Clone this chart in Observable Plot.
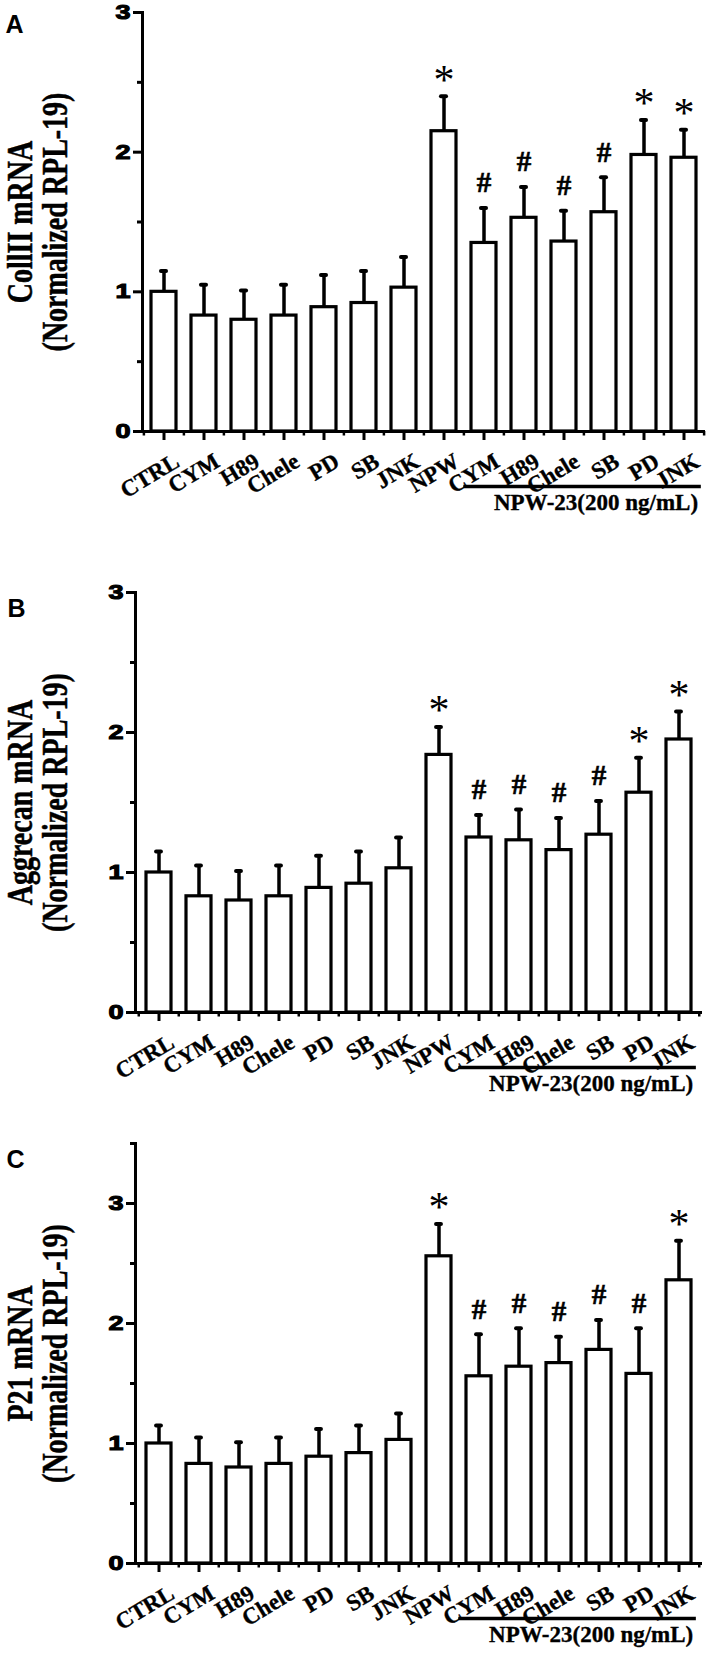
<!DOCTYPE html>
<html><head><meta charset="utf-8">
<script src="https://cdn.jsdelivr.net/npm/d3@7"></script>
<script src="https://cdn.jsdelivr.net/npm/@observablehq/plot@0.6"></script>
<style>
body{margin:0;background:#fff;}
#chart{width:709px;}
#chart svg{display:block;overflow:visible;}
</style></head><body><div id="chart"></div>
<script>
// Categories (x tick labels)
const labels = ["CTRL","CYM","H89","Chele","PD","SB","JNK","NPW","CYM","H89","Chele","SB","PD","JNK"];
const groupLabel = "NPW-23(200 ng/mL)";
const yTickLabels = [0, 1, 2, 3];

// Panel A: CollII mRNA
const collMean  = [1.00,0.83,0.80,0.83,0.89,0.92,1.03,2.15,1.35,1.53,1.36,1.57,1.98,1.96];
const collUpper = [1.15,1.05,1.01,1.05,1.12,1.15,1.25,2.40,1.60,1.75,1.58,1.82,2.23,2.16];
const collMarks = ["","","","","","","","*","#","#","#","#","*","*"];

// Panel B: Aggrecan mRNA
const aggMean  = [1.00,0.83,0.80,0.83,0.89,0.92,1.03,1.84,1.25,1.23,1.16,1.27,1.57,1.95];
const aggUpper = [1.15,1.05,1.01,1.05,1.12,1.15,1.25,2.04,1.41,1.45,1.39,1.51,1.82,2.15];
const aggMarks = ["","","","","","","","*","#","#","#","#","*","*"];

// Panel C: P21 mRNA
const p21Mean  = [1.00,0.83,0.80,0.83,0.89,0.92,1.03,2.56,1.56,1.64,1.67,1.78,1.58,2.36];
const p21Upper = [1.15,1.05,1.01,1.05,1.12,1.15,1.25,2.83,1.91,1.96,1.89,2.03,1.96,2.69];
const p21Marks = ["","","","","","","","*","#","#","#","#","#","*"];

const serif = "'Liberation Serif','Times New Roman',serif";
const sans = "'Liberation Sans',Arial,sans-serif";

function stretch(t, sx, sy) {
  const tr = t.getAttribute("transform");
  if (tr) t.setAttribute("transform", tr + ` scale(${sx},${sy})`);
  else {
    const x = +t.getAttribute("x") || 0, y = +t.getAttribute("y") || 0;
    t.setAttribute("transform", `translate(${x},${y}) scale(${sx},${sy}) translate(${-x},${-y})`);
  }
}

function heavy(t, w) {
  t.setAttribute("fill", "black");
  t.setAttribute("stroke", "black");
  t.setAttribute("stroke-width", String(w));
  t.style.fill = "black";
  t.style.stroke = "black";
  t.style.strokeWidth = w + "px";
}

function panel({letter, title1, title2, mean, upper, marks, yMax, yMinor, height, mt, mb, ml, mr, letterDx, letterDy}) {
  const width = 709;
  const data = labels.map((label, i) => ({id: i, label, mean: mean[i], upper: upper[i], mark: marks[i]}));
  const ids = data.map(d => d.id);
  const step = (width - ml - mr) / ids.length;
  const bw = step * 0.62;
  const last = ids[ids.length - 1];
  const svg = Plot.plot({
    width, height, marginTop: mt, marginBottom: mb, marginLeft: ml, marginRight: mr,
    style: {fontFamily: sans, color: "black", background: "white", overflow: "visible"},
    x: {type: "band", domain: ids, paddingInner: 0.38, paddingOuter: 0.19},
    y: {domain: [0, yMax]},
    marks: [
      Plot.axisY({ticks: yTickLabels, tickSize: 9, tickPadding: 3, strokeWidth: 3, label: null, tickFormat: d => String(d)}),
      Plot.axisY({ticks: yMinor, tickSize: 5, strokeWidth: 3, label: null, tickFormat: () => ""}),
      Plot.axisX({ticks: ids, tickSize: 9, strokeWidth: 3, label: null, tickFormat: () => ""}),
      Plot.axisX({ticks: ids, tickSize: 4.5, strokeWidth: 2.5, label: null, tickFormat: () => "", dx: -step / 2}),
      Plot.axisX({ticks: [last], tickSize: 4.5, strokeWidth: 2.5, label: null, tickFormat: () => "", dx: step / 2}),
      Plot.ruleX(data, {x: "id", y1: "mean", y2: "upper", strokeWidth: 3.5}),
      Plot.tickY(data, {x: "id", y: "upper", strokeWidth: 4, strokeLinecap: "round", inset: (bw - 5) / 2}),
      Plot.barY(data, {x: "id", y: "mean", fill: "white", stroke: "black", strokeWidth: 3.2}),
      Plot.ruleY([0], {strokeWidth: 3}),
      Plot.frame({anchor: "left", strokeWidth: 3}),
      Plot.text(data.filter(d => d.mark === "*"), {x: "id", y: "upper", text: "mark", fontSize: 42, fontFamily: serif, dy: -16}),
      Plot.text(data.filter(d => d.mark === "#"), {x: "id", y: "upper", text: "mark", fontSize: 29, fontWeight: "bold", fontFamily: serif, dy: -25, className: "heavy"}),
      Plot.text(data, {x: "id", text: "label", frameAnchor: "bottom", rotate: -31, textAnchor: "end", lineAnchor: "bottom", dx: 17, dy: 34, fontSize: 23, fontWeight: "bold", fontFamily: serif}),
      Plot.ruleY([{x1: 8, x2: last, y: 0}], {x1: "x1", x2: "x2", y: "y", dy: 55, strokeWidth: 3.5, insetLeft: -step * 0.19, insetRight: -step * 0.12}),
      Plot.text([{x: last, y: 0, t: groupLabel}], {x: "x", y: "y", text: "t", textAnchor: "end", lineAnchor: "bottom", dx: step / 2 - 6, dy: 78, fontSize: 23, fontWeight: "bold", fontFamily: serif}),
      Plot.text([title1], {frameAnchor: "left", textAnchor: "middle", lineAnchor: "middle", dx: -(ml - 20), rotate: -90, fontSize: 28, fontWeight: "bold", fontFamily: serif}),
      Plot.text([title2], {frameAnchor: "left", textAnchor: "middle", lineAnchor: "middle", dx: -(ml - 55), rotate: -90, fontSize: 28, fontWeight: "bold", fontFamily: serif}),
      Plot.text([letter], {frameAnchor: "top-left", dx: letterDx, dy: letterDy, textAnchor: "start", lineAnchor: "top", fontSize: 25, fontWeight: "bold", fontFamily: sans})
    ]
  });
  const digits = new Set(yTickLabels.map(String));
  const xl = new Set(labels);
  svg.querySelectorAll("text").forEach(t => {
    const s = t.textContent;
    if (digits.has(s)) {
      t.setAttribute("font-size", "20");
      t.setAttribute("font-weight", "bold");
      t.setAttribute("font-family", sans);
      t.style.fontSize = "20px";
      t.style.fontWeight = "bold";
      heavy(t, 1.1);
      stretch(t, 1.35, 1);
    } else if (s === title1 || s === title2) {
      heavy(t, 0.4);
      stretch(t, 1, 1.25);
    } else if (xl.has(s) || s === groupLabel) {
      heavy(t, 0.35);
    } else if (s === "#") {
      heavy(t, 0.6);
    }
  });
  return svg;
}

const chart = document.getElementById("chart");
chart.append(panel({letter: "A", title1: "CollII mRNA", title2: "(Normalized RPL-19)", mean: collMean, upper: collUpper, marks: collMarks,
  yMax: 3, yMinor: [0.5,1.5,2.5], height: 521, mt: 12, mb: 90, ml: 142, mr: 4, letterDx: -137, letterDy: 3}));
chart.append(panel({letter: "B", title1: "Aggrecan mRNA", title2: "(Normalized RPL-19)", mean: aggMean, upper: aggUpper, marks: aggMarks,
  yMax: 3, yMinor: [0.5,1.5,2.5], height: 581, mt: 71, mb: 90, ml: 135, mr: 7, letterDx: -128, letterDy: 7}));
chart.append(panel({letter: "C", title1: "P21 mRNA", title2: "(Normalized RPL-19)", mean: p21Mean, upper: p21Upper, marks: p21Marks,
  yMax: 3.5, yMinor: [0.5,1.5,2.5,3.5], height: 552, mt: 41, mb: 91, ml: 135, mr: 7, letterDx: -129, letterDy: 7}));
</script></body></html>
